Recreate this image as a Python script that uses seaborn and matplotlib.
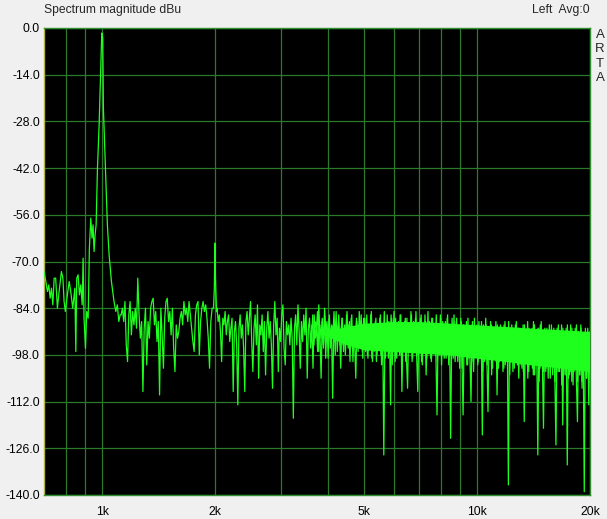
"""ARTA style spectrum plot: 1 kHz tone with noise floor, log frequency axis."""
import matplotlib

matplotlib.use("agg")
import matplotlib.pyplot as plt
import numpy as np
import pandas as pd
import seaborn as sns

# spectrum around the 1 kHz tone, read point by point (Hz, dBu)
peak_freqs = [700, 708, 715, 721, 727, 733, 739, 745, 752, 760, 768, 779, 786, 792, 798,
              808, 817, 825, 835, 846, 851, 856, 863, 870, 877, 885, 890, 895, 903, 910,
              918, 925, 933, 940, 946, 952, 958, 964, 972, 982, 992, 998, 1004, 1008, 1017,
              1025, 1033, 1044, 1059, 1076, 1088, 1098, 1108, 1117]
peak_levels = [-73, -76, -79, -77, -81, -78, -83, -75, -75, -84, -79, -73, -75, -82, -85,
               -80, -76, -79, -84, -78, -97, -75, -74, -80, -77, -83, -69, -87, -96, -85,
               -87, -66, -57, -63, -59, -67, -62, -59, -42, -29, -12, -1.5, -3, -24, -37,
               -49, -59, -68, -76, -82, -85, -83, -88, -86]

# noise floor 1.1k - 2k, bins spread evenly on the log axis between the edges
floor_b_edges = (1124, 1965)
floor_b_levels = [-86, -84, -88, -82, -95, -100, -86, -82, -92, -85, -89, -84, -90, -75, -86,
                  -93, -88, -109, -90, -84, -101, -88, -93, -84, -82, -81, -89, -85, -94, -88,
                  -110, -84, -92, -102, -87, -82, -81, -88, -85, -92, -84, -96, -103, -89, -93,
                  -91, -87, -85, -89, -82, -86, -84, -88, -82, -86, -90, -94, -97, -86, -83,
                  -82, -98, -88, -84, -82, -85, -83, -87, -93, -102, -88, -84]

# 2 kHz harmonic
tone2_freqs = [1982, 1992, 1999, 2006, 2013, 2019]
tone2_levels = [-84, -78, -64.5, -75, -81, -85]

# noise floor 2k - 5k
floor_d_edges = (2025, 4990)
floor_d_levels = [-84, -88, -86, -91, -100, -87, -89, -85, -92, -88, -86, -94, -90, -87, -109, -91,
                  -88, -95, -113, -90, -86, -93, -89, -96, -109, -88, -85, -92, -87, -82, -94, -103,
                  -90, -86, -95, -83, -105, -89, -92, -86, -97, -88, -104, -90, -85, -93, -88, -95,
                  -108, -89, -82, -92, -87, -103, -90, -94, -86, -83, -96, -101, -88, -92, -89, -95,
                  -87, -93, -117, -90, -86, -95, -83, -91, -102, -88, -94, -86, -92, -84, -105, -90,
                  -87, -96, -89, -102, -86, -93, -90, -97, -83, -92, -105, -88, -95, -86, -99, -89,
                  -93, -87, -96, -90, -111, -88, -94, -85, -97, -89, -92, -102, -87, -95, -90, -98,
                  -86, -93, -89, -100, -87, -96, -90, -94, -105, -88, -97, -85, -95, -89, -99, -87]

# extra bins 3.6k - 5k, where the floor starts to get crowded
floor_d2_edges = (3620, 4980)
floor_d2_levels = [-92, -86, -95, -88, -90, -85, -97, -89, -93, -87, -96, -84, -91, -88, -99,
                   -86, -94, -89, -92, -85, -98, -88, -93, -86, -95, -90, -87, -97, -89, -92,
                   -85, -96, -88, -94, -86, -100, -90, -93, -87, -95, -89, -91, -86, -97, -88]

# noise floor 5k - 20k (dense band), two overlapping sets of bins
floor_e_edges = (5010, 19990)
floor_e_levels = [-88, -97, -86, -99, -89, -95, -85, -100, -90, -96, -87, -98, -91, -94, -86, -101, -89, -128, -92, -97,
                  -86, -99, -90, -113, -87, -96, -85, -100, -91, -95, -88, -98, -86, -109, -90, -97, -87, -99, -108, -89,
                  -96, -85, -100, -91, -94, -87, -98, -109, -89, -96, -86, -101, -90, -95, -88, -99, -85, -97, -91, -100,
                  -87, -96, -89, -98, -116, -90, -95, -86, -101, -88, -97, -91, -99, -87, -96, -89, -123, -92, -98, -86,
                  -100, -88, -97, -90, -102, -87, -99, -116, -91, -96, -88, -101, -90, -98, -112, -89, -100, -87, -97, -92,
                  -101, -88, -98, -91, -122, -89, -100, -87, -99, -115, -92, -97, -89, -102, -90, -98, -88, -110, -91, -100,
                  -89, -99, -92, -102, -88, -98, -90, -137, -91, -100, -89, -103, -92, -97, -88, -101, -90, -99, -93, -102,
                  -89, -118, -91, -100, -88, -103, -92, -99, -90, -104, -89, -101, -93, -128, -90, -102, -88, -100, -120, -91,
                  -103, -90, -101, -92, -105, -89, -102, -91, -104, -125, -90, -103, -93, -100, -89, -119, -92, -104, -90, -131,
                  -91, -104, -89, -106, -92, -103, -90, -105, -118, -91, -104, -89, -106, -93, -139, -90, -105, -92, -113, -91]
floor_e2_edges = (5027, 19999)
floor_e2_levels = [-96, -87, -98, -90, -94, -86, -99, -89, -97, -88, -100, -91, -95, -87, -98, -90, -96, -85, -99, -92,
                   -95, -88, -97, -86, -101, -90, -94, -87, -99, -89, -96, -86, -98, -91, -95, -88, -100, -87, -97, -90,
                   -94, -86, -99, -88, -96, -85, -98, -90, -95, -87, -100, -89, -97, -86, -104, -91, -96, -88, -99, -87,
                   -97, -90, -95, -86, -100, -89, -98, -87, -96, -91, -99, -88, -95, -86, -101, -90, -97, -87, -99, -89,
                   -98, -87, -100, -91, -96, -88, -102, -89, -97, -90, -101, -87, -99, -92, -98, -88, -103, -90, -96, -89,
                   -100, -91, -98, -88, -103, -90, -97, -89, -101, -92, -99, -88, -104, -90, -98, -91, -100, -89, -102, -93,
                   -99, -90, -103, -89, -101, -92, -98, -88, -104, -91, -100, -90, -102, -89, -99, -93, -105, -90, -101, -91,
                   -103, -89, -100, -92, -105, -90, -99, -91, -102, -88, -104, -93, -101, -90, -106, -89, -100, -92, -103, -90,
                   -102, -91, -105, -89, -101, -93, -104, -90, -106, -92, -100, -89, -103, -91, -107, -90, -102, -93, -104, -89,
                   -105, -92, -103, -90, -107, -91, -102, -89, -106, -93, -104, -90, -108, -92, -101, -91, -105, -90, -103, -92]

# solid core of the band, where the bins pile up into one green mass
band_freqs = [3900, 4500, 5000, 6000, 7000, 8500, 10000, 12000, 14000, 17000, 20000]
band_top = [-91, -89.5, -88.5, -88, -88, -88.5, -89, -89.5, -90, -90.5, -91]
band_bottom = [-92, -95, -96.5, -97, -97.5, -98, -99, -100, -101, -102, -103]

y_ticks = list(range(-140, 1, 14))
x_ticks = [1000, 2000, 5000, 10000, 20000]
x_tick_labels = ["1k", "2k", "5k", "10k", "20k"]
grid_freqs = [800, 900, 1000, 2000, 3000, 4000, 5000, 6000, 7000, 8000, 9000, 10000]

sns.set_style("ticks")
plt.rcParams["font.family"] = ["Liberation Sans", "DejaVu Sans"]

# main trace plus a second trace of extra bins, drawn over each other
segments = [
    ("main", np.asarray(peak_freqs, dtype=float), peak_levels),
    ("main", np.geomspace(*floor_b_edges, len(floor_b_levels)), floor_b_levels),
    ("main", np.asarray(tone2_freqs, dtype=float), tone2_levels),
    ("main", np.geomspace(*floor_d_edges, len(floor_d_levels)), floor_d_levels),
    ("main", np.geomspace(*floor_e_edges, len(floor_e_levels)), floor_e_levels),
    ("extra", np.geomspace(*floor_d2_edges, len(floor_d2_levels)), floor_d2_levels),
    ("extra", np.geomspace(*floor_e2_edges, len(floor_e2_levels)), floor_e2_levels),
]
spectrum = pd.concat([pd.DataFrame({"trace": t, "freq": f, "level": lv}) for t, f, lv in segments])

green = "#1eff1e"

fig = plt.figure(figsize=(6.07, 5.19), dpi=100, facecolor="#f0f0f0")
ax = fig.add_axes([44 / 607, 24 / 519, 546 / 607, 467 / 519])
ax.set_facecolor("black")

ax.fill_between(band_freqs, band_top, band_bottom, color=green, lw=0, zorder=2)
sns.lineplot(data=spectrum, x="freq", y="level", units="trace", ax=ax, color=green, lw=0.9,
             estimator=None, sort=True, zorder=3)

ax.set_xscale("log")
ax.set_xlim(700, 20000)
ax.set_ylim(-140, 0)
ax.set_xticks(x_ticks, x_tick_labels)
ax.set_xticks(grid_freqs, minor=True)
ax.xaxis.set_minor_formatter(plt.NullFormatter())
ax.set_yticks(y_ticks, [f"{v:.1f}" for v in y_ticks])
ax.tick_params(axis="both", which="both", length=0, labelsize=8.7, labelcolor="black")
ax.tick_params(axis="x", pad=8)
ax.tick_params(axis="y", pad=3)
ax.grid(which="both", color="#2a7a2a", lw=0.9)
ax.set_axisbelow(True)
ax.set_xlabel("")
ax.set_ylabel("")

for side in ["top", "right", "bottom"]:
    ax.spines[side].set_color("#2f8f2f")
    ax.spines[side].set_linewidth(1)
ax.spines["left"].set_color("#b4b43c")
ax.spines["left"].set_linewidth(1)

fig.text(44 / 607, 1 - 10 / 519, "Spectrum magnitude dBu", fontsize=8.7, va="center", ha="left")
fig.text(590 / 607, 1 - 10 / 519, "Left  Avg:0", fontsize=8.7, va="center", ha="right")
for i, letter in enumerate("ARTA"):
    fig.text(600 / 607, 1 - (35 + 14.3 * i) / 519, letter, fontsize=9.5, va="center", ha="center")

fig.savefig("out.png", dpi=100, facecolor=fig.get_facecolor())
plt.close("all")
